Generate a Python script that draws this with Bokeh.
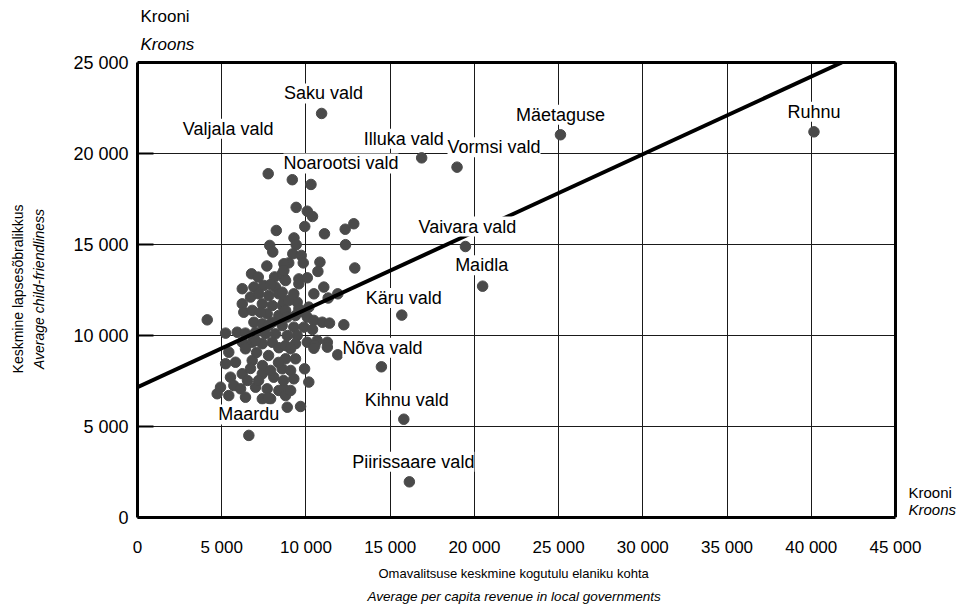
from bokeh.plotting import figure
from bokeh.models import (ColumnDataSource, Range1d, FixedTicker, LabelSet, Label, Title)
from bokeh.core.properties import value
from bokeh.embed import file_html
from bokeh.resources import INLINE

# ---------------- data ----------------
named_names = ["Saku vald", "Valjala vald", "Noarootsi vald", "Illuka vald", "Vormsi vald",
               "Mäetaguse", "Ruhnu", "Vaivara vald", "Maidla", "Käru vald", "Nõva vald",
               "Kihnu vald", "Piirissaare vald", "Maardu"]
named_x = [10930, 7760, 10300, 16870, 18970, 25110, 40160, 19470, 20490, 15690, 14480,
           15810, 16140, 6610]
named_y = [22200, 18890, 18300, 19760, 19250, 21030, 21190, 14890, 12710, 11120, 8280,
           5400, 1960, 4510]

other_x = [9190, 9420, 10080, 10390, 8240, 9930, 11100, 12330, 12840, 9290, 9420, 7850, 8030,
           12350, 9220, 9720, 8980, 9840, 10830, 7680, 8690, 10710, 12900, 6770, 7170, 8140,
           8730, 9580, 10080, 6910, 6220, 7500, 8190, 8590, 6710, 7200, 7800, 8390, 6220, 7410,
           8000, 8590, 6310, 6810, 7700, 8390, 4140, 6910, 7410, 8000, 8590, 5230, 5920, 6410,
           7010, 7600, 8190, 6220, 6810, 7410, 8000, 8390, 8690, 8790, 9580, 11060, 8590, 9280,
           10470, 11890, 11320, 8690, 9480, 8790, 9580, 10170, 8890, 9380, 9880, 10080, 10470,
           10970, 11400, 12250, 9280, 9880, 10390, 8890, 9480, 10080, 10670, 11270, 9380, 8790,
           13240, 10530, 11890, 5420, 6410, 5230, 5820, 6810, 5520, 6220, 7410, 8090, 4930,
           4730, 5720, 6120, 7010, 7700, 8390, 7410, 7900, 6410, 5420, 9090, 8790, 9380, 10470,
           11270, 8590, 9090, 9920, 9280, 10170, 8690, 8790, 8890, 9680, 7760, 7070, 7780, 8370,
           7420, 6710, 7900, 7190, 6530, 8670, 9090, 7010, 7780, 7300, 8970, 7900]
other_y = [18560, 17040, 16830, 16540, 15770, 15990, 15590, 15840, 16140, 15360, 14990, 14950,
           14590, 14990, 14490, 14400, 13990, 13990, 14030, 13820, 13940, 13520, 13710, 13390,
           13210, 13220, 13110, 13110, 13170, 12660, 12570, 12750, 12660, 13390, 12110, 12290,
           12200, 12290, 11740, 11740, 11650, 11650, 11280, 11380, 11190, 11100, 10860, 10730,
           10640, 10730, 10550, 10130, 10180, 10130, 10180, 10090, 10090, 9630, 9630, 9550, 9630,
           9330, 13570, 13020, 12840, 12660, 12380, 12290, 12290, 12290, 12060, 11830, 11830,
           11380, 11470, 11560, 11010, 11100, 11280, 11010, 10830, 10730, 10680, 10590, 10460,
           10460, 10330, 10000, 10000, 9630, 9730, 9630, 9550, 9450, 9360, 9450, 8940, 9080,
           9270, 8450, 8530, 8630, 7710, 7900, 7900, 7710, 7160, 6800, 7250, 7070, 7160, 7070,
           6980, 6520, 6520, 6610, 6700, 9270, 8720, 8720, 9300, 9360, 8170, 8080, 8170, 7620,
           7440, 7070, 6700, 6060, 6100, 6560, 9070, 8900, 8520, 8350, 8190, 8080, 7530, 7530,
           7530, 6980, 9730, 10550, 11270, 11920, 12800]

trend_x = [0, 41810]
trend_y = [7165, 25000]

x_ticks = [0, 5000, 10000, 15000, 20000, 25000, 30000, 35000, 40000, 45000]
x_tick_labels = ["0", "5 000", "10 000", "15 000", "20 000", "25 000", "30 000", "35 000",
                 "40 000", "45 000"]
y_ticks = [0, 5000, 10000, 15000, 20000, 25000]
y_tick_labels = ["0", "5 000", "10 000", "15 000", "20 000", "25 000"]

# label placement (screen pixels, style only)
label_dx = [2, -40, 30, -18, 37, 0, 0, 2, -1, 2, 1, 3, 4, 0]
label_dy = [20, 45, 21, 19, 20, 20, 20, 20, 21, 17, 19, 19, 20, 21]

FONT = "Liberation Sans"
X0, X1 = x_ticks[0], x_ticks[-1]
Y0, Y1 = y_ticks[0], y_ticks[-1]

# the frame runs on to the right edge of the page so the unit note there stays visible;
# the drawn box ends at 45 000 / 25 000
p = figure(width=965, height=614, output_backend="svg", toolbar_location=None, title=None,
           x_range=Range1d(X0, 49156), y_range=Range1d(Y0, 25110),
           min_border_left=137, min_border_right=0, min_border_top=60, min_border_bottom=97)
p.background_fill_color = "white"
p.border_fill_color = "white"
p.outline_line_color = None

p.xaxis.ticker = FixedTicker(ticks=x_ticks)
p.yaxis.ticker = FixedTicker(ticks=y_ticks)
p.xaxis.major_label_overrides = dict(zip(x_ticks, x_tick_labels))
p.yaxis.major_label_overrides = dict(zip(y_ticks, y_tick_labels))
p.xaxis.bounds = (X0, X1)
p.yaxis.bounds = (Y0, Y1)
for ax in (p.xaxis, p.yaxis):
    ax.axis_line_width = 3
    ax.axis_line_color = "black"
    ax.minor_tick_line_color = None
    ax.major_label_text_font = FONT
    ax.major_label_text_color = "black"
    ax.axis_label_text_font = FONT
    ax.axis_label_text_font_size = "14px"
    ax.axis_label_text_color = "black"
p.xaxis.major_label_text_font_size = "17px"
p.yaxis.major_label_text_font_size = "18px"
p.xaxis.major_tick_in = 0
p.xaxis.major_tick_out = 0
p.xaxis.major_label_standoff = 20
p.yaxis.major_tick_in = 16
p.yaxis.major_tick_out = 0
p.yaxis.major_tick_line_width = 2
p.yaxis.major_label_standoff = 9

p.yaxis.axis_label = "Average child-friendliness"
p.yaxis.axis_label_text_font_style = "italic"
p.yaxis.axis_label_standoff = 23

p.xgrid.ticker = FixedTicker(ticks=x_ticks)
p.ygrid.ticker = FixedTicker(ticks=y_ticks)
p.grid.grid_line_color = "#1a1a1a"
p.grid.grid_line_width = 1
p.grid.grid_line_alpha = 1
if "cross_bounds" in p.xgrid[0].properties():
    p.xgrid.cross_bounds = (Y0, Y1)
    p.ygrid.cross_bounds = (X0, X1)
else:
    p.grid.visible = False
    p.segment(x0=x_ticks, y0=[Y0] * len(x_ticks), x1=x_ticks, y1=[Y1] * len(x_ticks),
              line_color="#1a1a1a", line_width=1)
    p.segment(x0=[X0] * len(y_ticks), y0=y_ticks, x1=[X1] * len(y_ticks), y1=y_ticks,
              line_color="#1a1a1a", line_width=1)

# top and right edges of the box
p.line([X0, X1], [Y1, Y1], line_color="black", line_width=3)
p.line([X1, X1], [Y0, Y1], line_color="black", line_width=3)

p.scatter(other_x, other_y, size=10.5, fill_color="#4a4a4a", line_color="#4a4a4a")
p.scatter(named_x, named_y, size=10.5, fill_color="#4a4a4a", line_color="#4a4a4a")
p.line(trend_x, trend_y, line_color="black", line_width=4)

src = ColumnDataSource(dict(x=named_x, y=named_y, text=named_names, dx=label_dx, dy=label_dy))
p.add_layout(LabelSet(x="x", y="y", text="text", source=src, x_offset="dx", y_offset="dy",
                      text_align="center", text_baseline="middle", text_font=value(FONT),
                      text_font_size=value("18px"), text_color="black",
                      background_fill_color="white"))

# titles outside the frame
p.add_layout(Title(text="Omavalitsuse keskmine kogutulu elaniku kohta", align="left", offset=241,
                   text_font=FONT, text_font_size="13px", text_font_style="normal",
                   text_color="black", standoff=9), "below")
p.add_layout(Title(text="Average per capita revenue in local governments", align="left", offset=230,
                   text_font=FONT, text_font_size="13.5px", text_font_style="italic",
                   text_color="black", standoff=3), "below")
p.add_layout(Title(text="Keskmine lapsesõbralikkus", align="center",
                   text_font=FONT, text_font_size="14px", text_font_style="normal",
                   text_color="black", standoff=5), "left")
p.add_layout(Title(text="Kroons", align="left", offset=3,
                   text_font=FONT, text_font_size="17px", text_font_style="italic",
                   text_color="black", standoff=14), "above")
p.add_layout(Title(text="Krooni", align="left", offset=3,
                   text_font=FONT, text_font_size="17px", text_font_style="normal",
                   text_color="black", standoff=0), "above")

# unit note at the right end of the x axis (inside the widened frame)
p.add_layout(Label(x=771, y=25, x_units="screen", y_units="screen", text="Krooni",
                   text_font=FONT, text_font_size="15px", text_baseline="alphabetic",
                   text_color="black"))
p.add_layout(Label(x=771, y=8, x_units="screen", y_units="screen", text="Kroons",
                   text_font=FONT, text_font_size="15px", text_baseline="alphabetic",
                   text_font_style="italic", text_color="black"))

open("out.html", "w").write(file_html(p, INLINE))
